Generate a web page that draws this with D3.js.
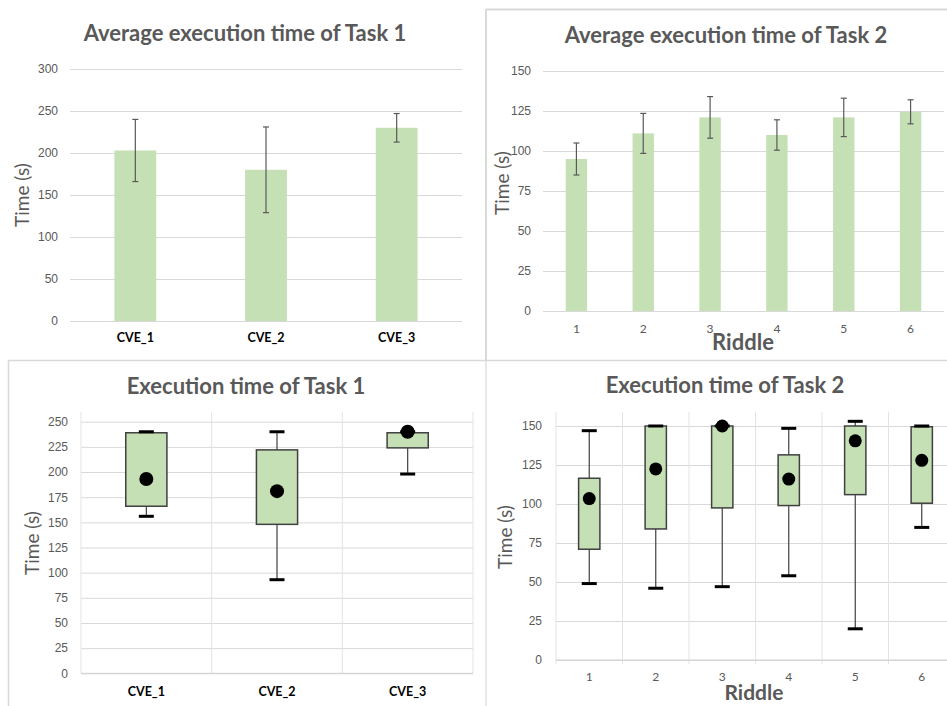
<!DOCTYPE html>
<html>
<head>
<meta charset="utf-8">
<script src="https://cdn.jsdelivr.net/npm/d3@7"></script>
<style>
  body { margin: 0; background: #fff; }
  svg { display: block; font-family: Lato, "Open Sans", sans-serif; }
  .grid line { stroke: #d9d9d9; }
  .grid path { display: none; }
  .tick text { fill: #595959; font-size: 12px; }
</style>
</head>
<body>
<script>
// categories
var cveNames = ["CVE_1", "CVE_2", "CVE_3"];
var riddles = ["1", "2", "3", "4", "5", "6"];

// average times + error bars
var task1Mean = [203, 180, 230];
var task1Err = [37, 51, 17];
var task2Mean = [95, 111, 121, 110, 121, 124.5];
var task2Err = [10, 12.5, 13, 9.5, 12, 7.5];

// box plot stats, task 1
var t1Min = [156, 93, 198];
var t1Q1 = [166, 148, 224];
var t1Q3 = [239, 222, 239];
var t1Max = [240, 240, 240];
var t1Avg = [193, 181, 240];

// box plot stats, task 2
var t2Min = [49, 46, 47, 54, 20, 85];
var t2Q1 = [71, 84, 97.5, 99, 106, 100.5];
var t2Q3 = [116.5, 150, 150, 131.5, 150, 149.5];
var t2Max = [147, 150, 150, 148.5, 153, 150];
var t2Avg = [103.5, 122.5, 150, 116, 140.5, 128];

// tick values
var ticks1 = [0, 50, 100, 150, 200, 250, 300];
var ticks2 = [0, 25, 50, 75, 100, 125, 150];
var ticks3 = [0, 25, 50, 75, 100, 125, 150, 175, 200, 225, 250];

var svg = d3.select("body").append("svg")
    .attr("width", 947)
    .attr("height", 706);

// panel frames
svg.append("line").attr("x1", 486).attr("x2", 486).attr("y1", 9).attr("y2", 360)
    .attr("stroke", "#d9d9d9").attr("stroke-width", 2);
svg.append("line").attr("x1", 486).attr("x2", 947).attr("y1", 9.5).attr("y2", 9.5)
    .attr("stroke", "#d9d9d9").attr("stroke-width", 2);
svg.append("line").attr("x1", 8).attr("x2", 947).attr("y1", 360.5).attr("y2", 360.5)
    .attr("stroke", "#d9d9d9").attr("stroke-width", 1.5);
svg.append("line").attr("x1", 8.5).attr("x2", 8.5).attr("y1", 360).attr("y2", 706)
    .attr("stroke", "#d9d9d9").attr("stroke-width", 1.5);
svg.append("line").attr("x1", 486).attr("x2", 486).attr("y1", 360).attr("y2", 706)
    .attr("stroke", "#d9d9d9").attr("stroke-width", 1.2);

function addText(x, y, str, size, weight, color, rotate) {
    var t = svg.append("text")
        .attr("x", x).attr("y", y)
        .attr("text-anchor", "middle")
        .attr("font-size", size)
        .attr("font-weight", weight)
        .attr("fill", color)
        .text(str);
    if (rotate) {
        t.attr("transform", "rotate(-90," + x + "," + y + ")")
         .attr("dy", "0.35em");
    }
    return t;
}

function yGrid(y, x0, x1, tickVals, labelX) {
    var g = svg.append("g")
        .attr("class", "grid")
        .attr("transform", "translate(" + x0 + ",0)")
        .call(d3.axisLeft(y).tickValues(tickVals).tickSize(-(x1 - x0)).tickPadding(x0 - labelX));
    g.selectAll(".tick line").attr("stroke", "#d9d9d9");
    return g;
}

// bar chart with error bars
function barChart(opt) {
    var x = d3.scaleBand().domain(opt.cats).range([opt.x0, opt.x1]).paddingInner(0.68).paddingOuter(0.34);
    var y = d3.scaleLinear().domain(opt.domain).range([opt.yBottom, opt.yTop]);

    yGrid(y, opt.x0, opt.x1, opt.ticks, opt.labelX);

    svg.append("g").selectAll("rect")
        .data(opt.means)
      .enter().append("rect")
        .attr("x", function(d, i) { return x(opt.cats[i]); })
        .attr("y", function(d) { return y(d); })
        .attr("width", x.bandwidth())
        .attr("height", function(d) { return y(0) - y(d); })
        .attr("fill", "#c5e0b4");

    var eb = svg.append("g").attr("stroke", "#595959").attr("stroke-width", 1.2);
    opt.means.forEach(function(m, i) {
        var cx = x(opt.cats[i]) + x.bandwidth() / 2;
        var hi = y(m + opt.errs[i]), lo = y(m - opt.errs[i]);
        eb.append("line").attr("x1", cx).attr("x2", cx).attr("y1", hi).attr("y2", lo);
        eb.append("line").attr("x1", cx - 3).attr("x2", cx + 3).attr("y1", hi).attr("y2", hi);
        eb.append("line").attr("x1", cx - 3).attr("x2", cx + 3).attr("y1", lo).attr("y2", lo);
    });

    svg.append("g").selectAll("text")
        .data(opt.cats)
      .enter().append("text")
        .attr("x", function(d) { return x(d) + x.bandwidth() / 2; })
        .attr("y", opt.catY)
        .attr("text-anchor", "middle")
        .attr("font-size", opt.catSize)
        .attr("font-weight", opt.catWeight)
        .attr("fill", opt.catColor)
        .text(function(d) { return d; });
}

// box and whisker chart
function boxChart(opt) {
    var x = d3.scaleBand().domain(opt.cats).range([opt.x0, opt.x0 + opt.band * opt.cats.length]);
    var y = d3.scaleLinear().domain(opt.domain).range([opt.yBottom, opt.yTop]);

    yGrid(y, opt.x0, opt.gridEnd, opt.ticks, opt.labelX);

    // vertical gridlines between categories
    var bounds = d3.range(opt.cats.length + 1).map(function(i) { return opt.x0 + i * opt.band; });
    svg.append("g").selectAll("line")
        .data(bounds)
      .enter().append("line")
        .attr("x1", function(d) { return d; }).attr("x2", function(d) { return d; })
        .attr("y1", opt.plotTop).attr("y2", y(0) + opt.tickLen)
        .attr("stroke", "#e3e3e3");

    svg.append("line")
        .attr("x1", opt.x0).attr("x2", opt.gridEnd)
        .attr("y1", y(0)).attr("y2", y(0))
        .attr("stroke", "#d0d0d0");

    var bw = opt.band * opt.boxFrac;
    var g = svg.append("g");
    opt.cats.forEach(function(c, i) {
        var cx = x(c) + x.bandwidth() / 2;
        g.append("line").attr("x1", cx).attr("x2", cx)
            .attr("y1", y(opt.max[i])).attr("y2", y(opt.min[i]))
            .attr("stroke", "#404040").attr("stroke-width", 1.2);
        g.append("rect")
            .attr("x", cx - bw / 2).attr("width", bw)
            .attr("y", y(opt.q3[i])).attr("height", y(opt.q1[i]) - y(opt.q3[i]))
            .attr("fill", "#c5e0b4").attr("stroke", "#404040").attr("stroke-width", 1.5);
        [opt.min[i], opt.max[i]].forEach(function(v) {
            g.append("line").attr("x1", cx - 7.5).attr("x2", cx + 7.5)
                .attr("y1", y(v)).attr("y2", y(v))
                .attr("stroke", "#000").attr("stroke-width", 3);
        });
        g.append("circle").attr("cx", cx).attr("cy", y(opt.avg[i]))
            .attr("r", opt.dotR).attr("fill", "#000");
    });

    svg.append("g").selectAll("text")
        .data(opt.cats)
      .enter().append("text")
        .attr("x", function(d) { return x(d) + x.bandwidth() / 2; })
        .attr("y", opt.catY)
        .attr("text-anchor", "middle")
        .attr("font-size", opt.catSize)
        .attr("font-weight", opt.catWeight)
        .attr("fill", opt.catColor)
        .text(function(d) { return d; });
}

// top left
barChart({
    cats: cveNames, means: task1Mean, errs: task1Err,
    x0: 70, x1: 462, yBottom: 321, yTop: 69, domain: [0, 300], ticks: ticks1, labelX: 58,
    catY: 342, catSize: 12.5, catWeight: "bold", catColor: "#000"
});
addText(245, 41, "Average execution time of Task 1", 22, "bold", "#595959");
addText(22, 195, "Time (s)", 19, "normal", "#595959", true);

// top right
barChart({
    cats: riddles, means: task2Mean, errs: task2Err,
    x0: 543, x1: 944, yBottom: 311, yTop: 71, domain: [0, 150], ticks: ticks2, labelX: 531,
    catY: 333, catSize: 12, catWeight: "normal", catColor: "#595959"
});
addText(726, 43, "Average execution time of Task 2", 22, "bold", "#595959");
addText(502, 183, "Time (s)", 19, "normal", "#595959", true);
addText(743, 350, "Riddle", 22, "bold", "#595959");

// bottom left
boxChart({
    cats: cveNames, min: t1Min, q1: t1Q1, q3: t1Q3, max: t1Max, avg: t1Avg,
    x0: 81, band: 130.67, gridEnd: 473, yBottom: 673.3, yTop: 421.7, plotTop: 411.7,
    domain: [0, 250], ticks: ticks3, labelX: 68, boxFrac: 0.315, dotR: 7, tickLen: 0,
    catY: 696, catSize: 12.5, catWeight: "bold", catColor: "#000"
});
addText(246, 394, "Execution time of Task 1", 22, "bold", "#595959");
addText(32, 543, "Time (s)", 19, "normal", "#595959", true);

// bottom right
boxChart({
    cats: riddles, min: t2Min, q1: t2Q1, q3: t2Q3, max: t2Max, avg: t2Avg,
    x0: 556, band: 66.5, gridEnd: 947, yBottom: 660, yTop: 426, plotTop: 411.7,
    domain: [0, 150], ticks: ticks2, labelX: 542, boxFrac: 0.32, dotR: 6.5, tickLen: 4,
    catY: 681, catSize: 12, catWeight: "normal", catColor: "#595959"
});
addText(725, 393, "Execution time of Task 2", 22, "bold", "#595959");
addText(505, 537, "Time (s)", 19, "normal", "#595959", true);
addText(754, 700, "Riddle", 21, "bold", "#595959");
</script>
</body>
</html>
